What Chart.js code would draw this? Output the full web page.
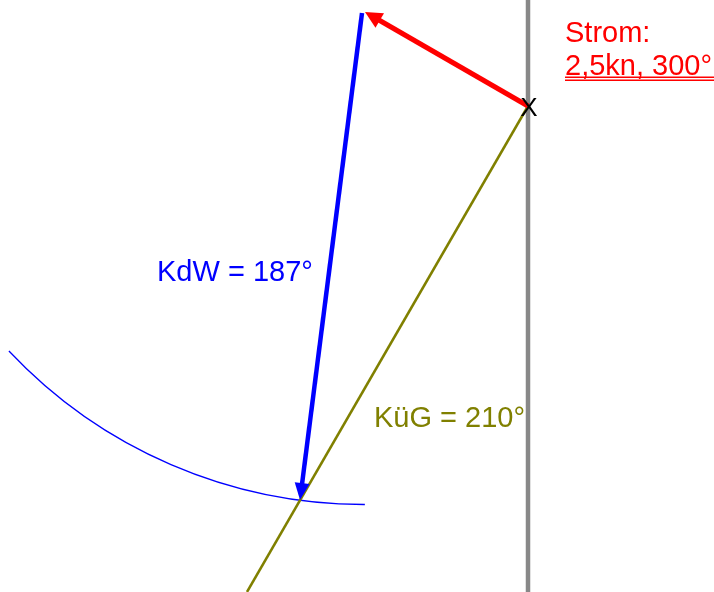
<!DOCTYPE html>
<html>
<head>
<meta charset="utf-8">
<script src="https://cdn.jsdelivr.net/npm/chart.js@4"></script>
<style>
  html, body { margin: 0; padding: 0; background: #fff; }
  #wrap { width: 714px; height: 592px; position: relative; }
</style>
</head>
<body>
<div id="wrap"><canvas id="kurs"></canvas></div>
<script>
// drawing units are laid out on a 714 x 592 plane
const shipPos = [528, 106];          // the X
const stromX = [528, 365];          // current vector, 2,5kn 300°
const stromY = [106, 12];
const kdwX = [362, 300];            // course through water 187°
const kdwY = [13, 500];
const kugX = [528, 247];            // course over ground 210°
const kugY = [106, 592];
const borderX = [528, 528];         // grey reference line
const borderY = [0, 592];
const arcCenter = [364, 17];
const arcRadius = 487.5;
const arcAngles = [136.75, 89.9];   // degrees, canvas direction

function pts(xs, ys) {
    return xs.map(function(x, i) { return { x: x, y: ys[i] }; });
}

// shaft gets clipped behind the head, then the head is drawn
const arrowPlugin = {
    id: 'arrows',
    beforeDatasetDraw(chart, args) {
        const ds = chart.data.datasets[args.index];
        if (!ds.arrow) return;
        const p = args.meta.data;
        const a = p[p.length - 2], b = p[p.length - 1];
        const len = Math.hypot(b.x - a.x, b.y - a.y);
        const ux = (b.x - a.x) / len, uy = (b.y - a.y) / len;
        const cut = ds.arrow.length * 0.6;
        const bx = b.x - ux * cut, by = b.y - uy * cut;
        const big = 3000;
        const ctx = chart.ctx;
        ctx.save();
        ctx.beginPath();
        ctx.moveTo(bx - uy * big, by + ux * big);
        ctx.lineTo(bx + uy * big, by - ux * big);
        ctx.lineTo(bx + uy * big - ux * big, by - ux * big - uy * big);
        ctx.lineTo(bx - uy * big - ux * big, by + ux * big - uy * big);
        ctx.closePath();
        ctx.clip();
    },
    afterDatasetDraw(chart, args) {
        const ds = chart.data.datasets[args.index];
        if (!ds.arrow) return;
        const ctx = chart.ctx;
        ctx.restore();
        const p = args.meta.data;
        const a = p[p.length - 2], b = p[p.length - 1];
        const len = Math.hypot(b.x - a.x, b.y - a.y);
        const ux = (b.x - a.x) / len, uy = (b.y - a.y) / len;
        const L = ds.arrow.length, W = ds.arrow.width / 2;
        const cx = b.x - ux * L, cy = b.y - uy * L;
        ctx.save();
        ctx.fillStyle = ds.borderColor;
        ctx.beginPath();
        ctx.moveTo(b.x, b.y);
        ctx.lineTo(cx - uy * W, cy + ux * W);
        ctx.lineTo(cx + uy * W, cy - ux * W);
        ctx.closePath();
        ctx.fill();
        ctx.restore();
    }
};

const arcPlugin = {
    id: 'distArc',
    beforeDatasetsDraw(chart) {
        const xs = chart.scales.x, ys = chart.scales.y;
        const cx = xs.getPixelForValue(arcCenter[0]);
        const cy = ys.getPixelForValue(arcCenter[1]);
        const r = Math.abs(xs.getPixelForValue(arcCenter[0] + arcRadius) - cx);
        const ctx = chart.ctx;
        ctx.save();
        ctx.strokeStyle = '#0000ff';
        ctx.lineWidth = 1.3;
        ctx.beginPath();
        ctx.arc(cx, cy, r, arcAngles[0] * Math.PI / 180, arcAngles[1] * Math.PI / 180, true);
        ctx.stroke();
        ctx.restore();
    }
};

const textPlugin = {
    id: 'notes',
    afterDatasetsDraw(chart, args, opts) {
        const xs = chart.scales.x, ys = chart.scales.y;
        const ctx = chart.ctx;
        opts.items.forEach(function(t) {
            const px = xs.getPixelForValue(t.x), py = ys.getPixelForValue(t.y);
            ctx.save();
            ctx.font = t.size + 'px "Liberation Sans", Arial, sans-serif';
            ctx.fillStyle = t.color;
            ctx.textAlign = t.align || 'left';
            ctx.textBaseline = 'alphabetic';
            ctx.fillText(t.text, px, py);
            if (t.underline) {
                ctx.fillRect(px, py + 1.5, chart.width - px, 1.5);
                ctx.fillRect(px, py + 4.5, chart.width - px, 1.5);
            }
            ctx.restore();
        });
    }
};

new Chart(document.getElementById('kurs'), {
    type: 'scatter',
    data: {
        datasets: [
            {
                label: 'Strom',
                data: pts(stromX, stromY),
                showLine: true,
                borderColor: '#ff0000',
                borderWidth: 5,
                pointRadius: 0,
                arrow: { length: 17, width: 17 },
                order: 1
            },
            {
                label: 'KdW',
                data: pts(kdwX, kdwY),
                showLine: true,
                borderColor: '#0000ff',
                borderWidth: 4.5,
                pointRadius: 0,
                arrow: { length: 17, width: 15 },
                order: 2
            },
            {
                label: 'KüG',
                data: pts(kugX, kugY),
                showLine: true,
                borderColor: '#808000',
                borderWidth: 2.5,
                pointRadius: 0,
                order: 3
            },
            {
                label: 'Rand',
                data: pts(borderX, borderY),
                showLine: true,
                borderColor: '#888888',
                borderWidth: 4.5,
                pointRadius: 0,
                order: 4
            }
        ]
    },
    options: {
        responsive: true,
        maintainAspectRatio: false,
        animation: false,
        layout: { padding: 0 },
        scales: {
            x: { type: 'linear', min: 0, max: 714, display: false },
            y: { type: 'linear', min: 0, max: 592, reverse: true, display: false }
        },
        plugins: {
            legend: { display: false },
            tooltip: { enabled: false },
            notes: {
                items: [
                    { text: 'Strom:', x: 565, y: 42, size: 29, color: '#ff0000' },
                    { text: '2,5kn, 300°', x: 565, y: 75, size: 29, color: '#ff0000', underline: true },
                    { text: 'KdW = 187°', x: 157, y: 281, size: 29, color: '#0000ff' },
                    { text: 'KüG = 210°', x: 374, y: 427, size: 29, color: '#808000' },
                    { text: 'X', x: shipPos[0] + 1, y: shipPos[1] + 10, size: 26, color: '#000000', align: 'center' }
                ]
            }
        }
    },
    plugins: [arcPlugin, arrowPlugin, textPlugin]
});
</script>
</body>
</html>
